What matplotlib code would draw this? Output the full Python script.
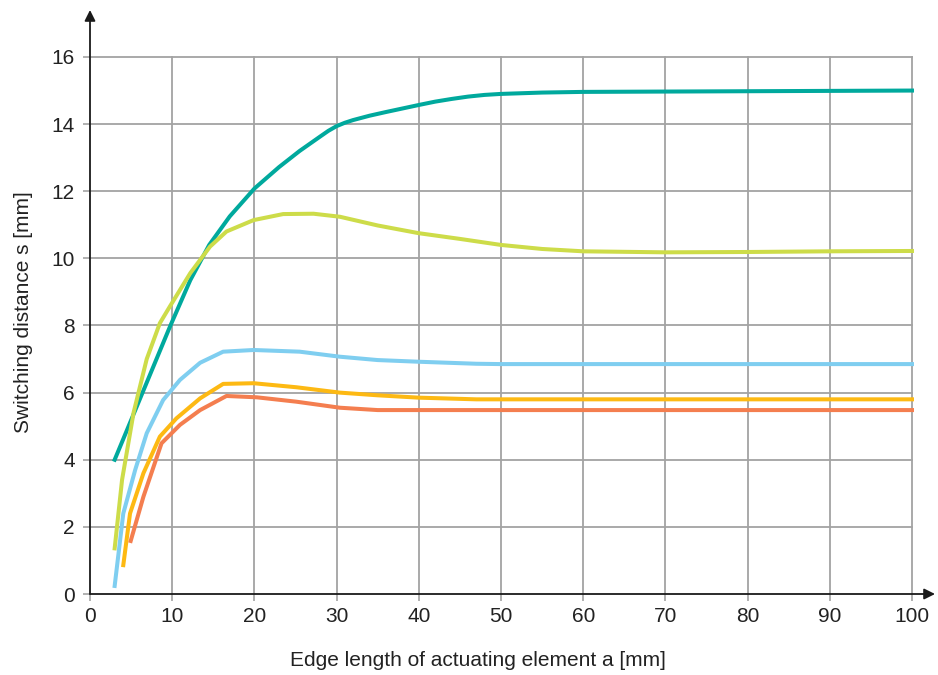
#!/usr/bin/env python

""" Switching distance vs. edge length of actuating element. """

import matplotlib
matplotlib.use("Agg")
import matplotlib.pyplot as plt


# Curve data
teal_x = [3, 9.7, 12.2, 14.5, 17, 20, 23, 25.5, 28, 29, 30, 31, 32, 34, 36, 40, 42, 44, 46, 48, 50, 55, 60, 70, 80, 90, 100]
teal_y = [4.0, 7.95, 9.35, 10.4, 11.25, 12.08, 12.72, 13.2, 13.63, 13.8, 13.94, 14.04, 14.12, 14.25, 14.36, 14.57, 14.67, 14.75, 14.82, 14.87, 14.9, 14.94, 14.96, 14.97, 14.98, 14.99, 15.0]

lime_x = [3, 3.9, 5.3, 6.9, 8.5, 9.7, 12.2, 14.6, 16.6, 19.9, 23.5, 27.2, 30.4, 35, 40, 45, 50, 55, 60, 70, 80, 90, 100]
lime_y = [1.36, 3.4, 5.4, 7.0, 8.07, 8.56, 9.56, 10.35, 10.8, 11.14, 11.32, 11.33, 11.24, 10.98, 10.75, 10.58, 10.4, 10.28, 10.21, 10.18, 10.19, 10.21, 10.22]

blue_x = [3, 4.05, 5.5, 6.9, 8.9, 10.95, 13.4, 16.2, 19.9, 25.5, 30.4, 35, 40, 47, 50, 60, 70, 80, 90, 100]
blue_y = [0.24, 2.4, 3.7, 4.79, 5.78, 6.38, 6.89, 7.22, 7.27, 7.22, 7.07, 6.97, 6.92, 6.86, 6.85, 6.85, 6.85, 6.85, 6.85, 6.85]

amber_x = [4.05, 4.87, 6.5, 8.5, 10.5, 13.4, 16.2, 19.9, 25.1, 30.4, 35, 40, 47, 50, 60, 70, 80, 90, 100]
amber_y = [0.86, 2.4, 3.6, 4.69, 5.23, 5.83, 6.26, 6.28, 6.16, 6.0, 5.92, 5.85, 5.8, 5.8, 5.8, 5.8, 5.8, 5.8, 5.8]

red_x = [4.95, 6.5, 8.7, 10.95, 13.4, 16.6, 20.3, 25.1, 30.4, 35, 40, 50, 60, 70, 80, 90, 100]
red_y = [1.58, 2.9, 4.49, 5.04, 5.48, 5.9, 5.86, 5.73, 5.55, 5.48, 5.48, 5.48, 5.48, 5.48, 5.48, 5.48, 5.48]

x_ticks = [0, 10, 20, 30, 40, 50, 60, 70, 80, 90, 100]
y_ticks = [0, 2, 4, 6, 8, 10, 12, 14, 16]

plt.rcParams['font.family'] = ['Liberation Sans', 'DejaVu Sans']

fig = plt.figure(figsize=(9.38, 6.75), dpi=100)
ax = fig.add_axes([90 / 938, 81 / 675, 845 / 938, 584 / 675])
ax.set_xlim(0, 102.8)
ax.set_ylim(0, 17.4)

# Grid box limited to the data range
grid_col = "#a3a3a3"
for xv in x_ticks[1:]:
    ax.plot([xv, xv], [0, y_ticks[-1]], color=grid_col, lw=1.3, zorder=1)
for yv in y_ticks[1:]:
    ax.plot([0, x_ticks[-1]], [yv, yv], color=grid_col, lw=1.3, zorder=1)

lw = 2.9
ax.plot(teal_x, teal_y, color="#00a99d", lw=lw, zorder=3)
ax.plot(lime_x, lime_y, color="#cddc49", lw=lw, zorder=3)
ax.plot(blue_x, blue_y, color="#7fcef0", lw=lw, zorder=3)
ax.plot(amber_x, amber_y, color="#fdb913", lw=lw, zorder=3)
ax.plot(red_x, red_y, color="#f47e4f", lw=lw, zorder=3)

for s in ax.spines.values():
    s.set_visible(False)

# Axis arrows
arrow = dict(arrowstyle="-|>", color="#1a1a1a", lw=1.3,
             mutation_scale=16, shrinkA=0, shrinkB=0)
ax.annotate("", xy=(1, 0), xytext=(0, 0), xycoords="axes fraction", arrowprops=arrow)
ax.annotate("", xy=(0, 1), xytext=(0, 0), xycoords="axes fraction", arrowprops=arrow)

ax.set_xticks(x_ticks)
ax.set_yticks(y_ticks)
ax.tick_params(axis="both", labelsize=15, color=grid_col, length=5, width=1.2,
               labelcolor="#222222")
ax.tick_params(axis="x", pad=4)
ax.tick_params(axis="y", pad=6)
ax.set_xlabel("Edge length of actuating element a [mm]", fontsize=15, color="#222222")
ax.set_ylabel("Switching distance s [mm]", fontsize=15, color="#222222")
ax.xaxis.set_label_coords(0.459, -0.097)
ax.yaxis.set_label_coords(-0.067, 0.483)

fig.savefig("out.png", dpi=100)
